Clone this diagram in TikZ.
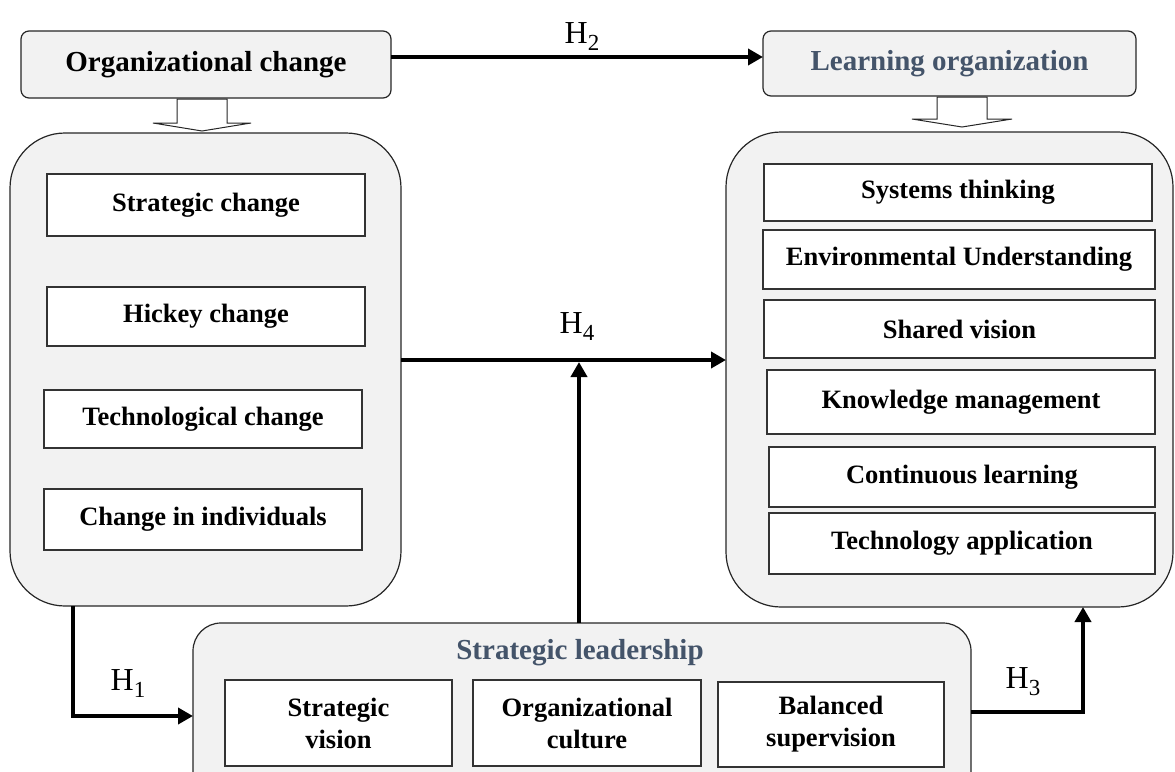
\documentclass[tikz,border=0pt]{standalone}
\usepackage{fontspec}
\newfontfamily\tnr{Liberation Serif}
\usetikzlibrary{arrows.meta,calc}
\definecolor{boxgray}{HTML}{F2F2F2}
\definecolor{titleblue}{HTML}{44546A}
\newcommand{\hsub}[1]{H\raisebox{-7pt}{\fontsize{23}{23}\selectfont #1}}
\tikzset{
  topbox/.style={draw=black!85, line width=1.2pt, fill=boxgray, rounded corners=8pt, inner sep=0pt, outer sep=0pt, font=\tnr\bfseries\fontsize{29}{34}\selectfont},
  bigbox/.style={draw=black!85, line width=1.2pt, fill=boxgray, rounded corners=55pt, inner sep=0pt, outer sep=0pt},
  slstyle/.style={draw=black!85, line width=1.2pt, fill=boxgray, rounded corners=28pt, inner sep=0pt, outer sep=0pt},
  itembox/.style={draw=black!80, line width=1.3pt, fill=white, inner sep=0pt, outer sep=0pt, align=center, font=\tnr\bfseries\fontsize{26.5}{32}\selectfont},
  titletext/.style={inner sep=0pt, text=titleblue, font=\tnr\bfseries\fontsize{29}{34}\selectfont},
  conn/.style={line width=4pt, -{Triangle[length=15pt,width=16pt]}},
  hlabel/.style={inner sep=0pt, font=\tnr\fontsize{32}{38}\selectfont},
  hollow/.style={draw=black!85, line width=1pt, fill=white}
}
\begin{document}
\begin{tikzpicture}[x=1pt,y=-1pt]
\useasboundingbox (0,0) rectangle (1175,771);
\clip (0,0) rectangle (1175,771);

% top boxes
\node[topbox, minimum width=370pt, minimum height=67pt] (orgchange) at (206,64.5) {Organizational change};
\node[topbox, minimum width=373pt, minimum height=65pt, text=titleblue] (learnorg) at (949.5,63.5) {Learning organization};

% big boxes
\node[bigbox, minimum width=391pt, minimum height=473pt] (ocbox) at (205.5,369.5) {};
\node[bigbox, minimum width=447pt, minimum height=475pt] (lobox) at (949.5,369.5) {};
\node[slstyle, minimum width=778pt, minimum height=180pt] (slbox) at (582,713) {};

% hollow block arrows
\draw[hollow] (177,99) -- (177,123) -- (153,123) -- (202,131) -- (251,123) -- (227,123) -- (227,99) -- cycle;
\draw[hollow] (937,97) -- (937,119) -- (912,119) -- (962,127) -- (1012,119) -- (987,119) -- (987,97) -- cycle;

% left items
\node[itembox, minimum width=318pt, minimum height=62pt] (stratc) at (206,205) {Strategic change};
\node[itembox, minimum width=318pt, minimum height=59pt] (hickey) at (206,316.5) {Hickey change};
\node[itembox, minimum width=318pt, minimum height=58pt] (techc) at (203,419) {Technological change};
\node[itembox, minimum width=318pt, minimum height=61pt] (indiv) at (203,519.5) {Change in individuals};

% right items
\node[itembox, minimum width=388pt, minimum height=57pt] (sys) at (958,192.5) {Systems thinking};
\node[itembox, minimum width=392pt, minimum height=59pt] (env) at (959,259.5) {Environmental Understanding};
\node[itembox, minimum width=391pt, minimum height=58pt] (shared) at (959.5,329) {Shared vision};
\node[itembox, minimum width=388pt, minimum height=64pt] (know) at (961,402) {Knowledge management};
\node[itembox, minimum width=386pt, minimum height=60pt] (cont) at (962,477) {Continuous learning};
\node[itembox, minimum width=386pt, minimum height=61pt] (techapp) at (962,543.5) {Technology application};

% bottom items
\node[titletext] (sltitle) at (580,653) {Strategic leadership};
\node[itembox, minimum width=227pt, minimum height=86pt] (svis) at (338.5,723) {Strategic\\vision};
\node[itembox, minimum width=228pt, minimum height=86pt] (oculture) at (587,723) {Organizational\\culture};
\node[itembox, minimum width=226pt, minimum height=85pt] (bsup) at (831,724.5) {Balanced\\supervision};

% helper coordinates
\coordinate (h2y) at (0,57);
\coordinate (h4y) at (0,360);
\coordinate (h4x) at (579,0);
\coordinate (h4tip) at (579,362);
\coordinate (h1x) at (73,0);
\coordinate (h1y) at (0,716);
\coordinate (h3x) at (1083,0);
\coordinate (h3y) at (0,712);

% connectors
\draw[conn] (orgchange.east |- h2y) -- (learnorg.west |- h2y);
\draw[conn] (ocbox.east |- h4y) -- (lobox.west |- h4y);
\draw[conn] (slbox.north -| h4x) -- (h4tip);
\draw[conn] (ocbox.south -| h1x) |- (slbox.west |- h1y);
\draw[conn] (slbox.east |- h3y) -| (lobox.south -| h3x);

% labels
\node[hlabel] (h2) at (582,37) {\hsub{2}};
\node[hlabel] (h4) at (577,327) {\hsub{4}};
\node[hlabel] (h1) at (128,684) {\hsub{1}};
\node[hlabel] (h3) at (1023,682) {\hsub{3}};
\end{tikzpicture}
\end{document}
